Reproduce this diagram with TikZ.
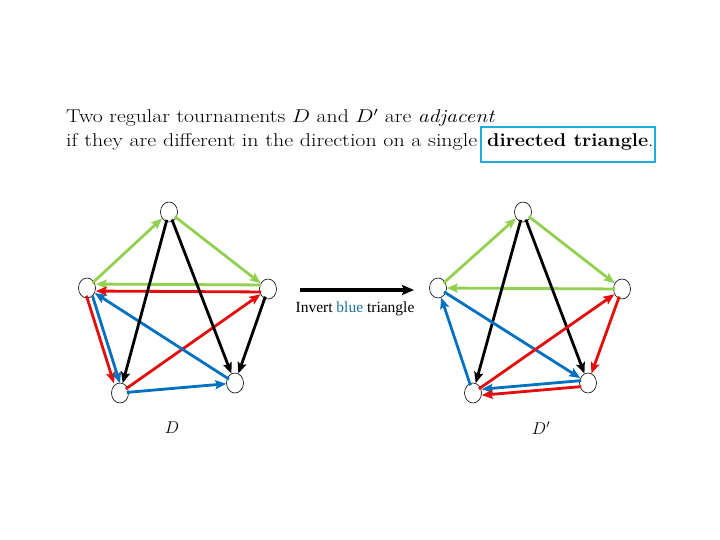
\RequirePackage{fix-cm}
\documentclass[tikz,border=0pt]{standalone}
\usepackage{graphicx}
\usepackage{fontspec}
\newfontfamily\timesf{Liberation Serif}
\usetikzlibrary{arrows.meta,shapes.geometric}
\definecolor{gr}{RGB}{146,208,80}
\definecolor{rd}{RGB}{228,12,12}
\definecolor{bl}{RGB}{0,112,192}
\definecolor{boxc}{RGB}{30,172,222}
\definecolor{txtblue}{RGB}{30,115,155}
\tikzset{
  vtx/.style={draw=black,line width=0.6pt,ellipse,minimum width=17pt,minimum height=20pt,inner sep=0pt,fill=white},
  edge/.style={line width=2.8pt,-{Stealth[length=11pt,width=9pt,inset=2pt]},shorten <=-2pt},
  ge/.style={edge,draw=gr},
  re/.style={edge,draw=rd},
  be/.style={edge,draw=bl},
  ke/.style={edge,draw=black},
  headline/.style={anchor=base west,inner sep=0pt,font=\fontsize{18.5}{22}\selectfont},
}
\begin{document}
\begin{tikzpicture}[x=1pt,y=-1pt]
\useasboundingbox (0,0) rectangle (720,540);
% text
\node[headline] (l1) at (66,123)
  {\resizebox{429pt}{\height}{Two regular tournaments $D$ and $D'$ are \emph{adjacent}}};
\node[headline] (l2) at (66,147)
  {\resizebox{411pt}{\height}{if they are different in the direction on a single}};
\node[headline] (l2b) at (487,147)
  {\resizebox{166pt}{\height}{\textbf{directed triangle}.}};
\draw[boxc,line width=2.6pt] (481,127) rectangle (655,162);

% left D
\node[vtx] (T) at (169,212) {};
\node[vtx] (L) at (87,288) {};
\node[vtx] (R) at (268,289) {};
\node[vtx] (BL) at (120,393) {};
\node[vtx] (BR) at (235,383) {};

\draw[ge] (L) -- (T);
\draw[ge] (T) -- (R);
\draw[ge,transform canvas={yshift=4pt}] (R) -- (L);
\draw[re,transform canvas={yshift=-3pt}] (R) -- (L);
\draw[re,transform canvas={xshift=-3pt}] (L) -- (BL);
\draw[be,transform canvas={xshift=3pt}] (L) -- (BL);
\draw[re] (BL) -- (R);
\draw[be] (BR) -- (L);
\draw[be] (BL) -- (BR);
\draw[ke] (T) -- (BL);
\draw[ke] (T) -- (BR);
\draw[ke] (R) -- (BR);

% right D'
\node[vtx] (T2) at (523,212) {};
\node[vtx] (L2) at (438,288) {};
\node[vtx] (R2) at (622,289) {};
\node[vtx] (BL2) at (473,393) {};
\node[vtx] (BR2) at (588,383) {};

\draw[ge] (L2) -- (T2);
\draw[ge] (T2) -- (R2);
\draw[ge] (R2) -- (L2);
\draw[ke] (T2) -- (BL2);
\draw[ke] (T2) -- (BR2);
\draw[be] (L2) -- (BR2);
\draw[be,transform canvas={yshift=3pt}] (BR2) -- (BL2);
\draw[be] (BL2) -- (L2);
\draw[re] (BL2) -- (R2);
\draw[re] (R2) -- (BR2);
\draw[re,transform canvas={yshift=-3pt}] (BR2) -- (BL2);

% labels
\node[font=\fontsize{17}{20}\selectfont] (dl) at (172,428) {$D$};
\node[font=\fontsize{17}{20}\selectfont] (dr) at (541,428) {$D'$};

% middle arrow
\coordinate (ma) at (300,290);
\coordinate (mb) at (414,290);
\draw[line width=3.2pt,-{Stealth[length=12pt,width=10pt,inset=2pt]}] (ma) -- (mb);
\node[font=\timesf\fontsize{15.5}{18}\selectfont,inner sep=0pt,anchor=base] (inv) at (355,312)
  {Invert \textcolor{txtblue}{blue} triangle};
\end{tikzpicture}
\end{document}
